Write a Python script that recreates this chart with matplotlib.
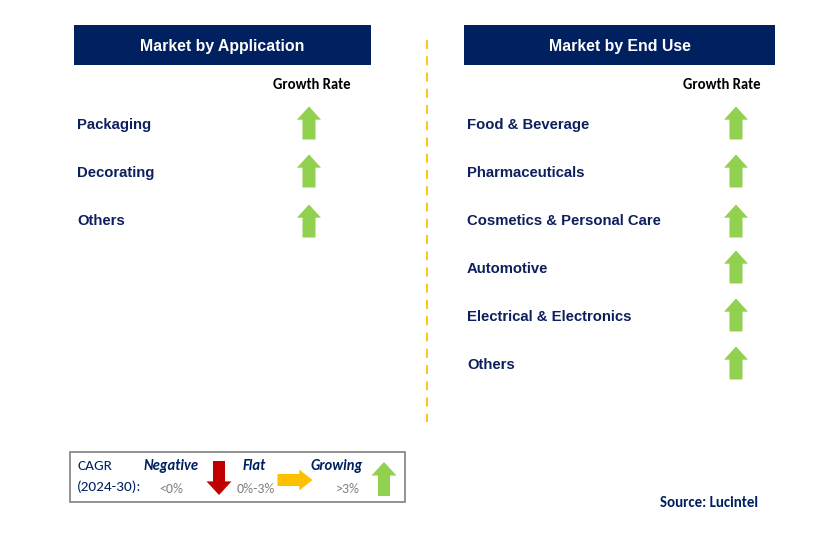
import matplotlib
matplotlib.use("Agg")
import matplotlib.pyplot as plt
from matplotlib.patches import Polygon, Rectangle

app_categories = ["Packaging", "Decorating", "Others"]
app_growth = ["up", "up", "up"]
enduse_categories = ["Food & Beverage", "Pharmaceuticals", "Cosmetics & Personal Care",
                     "Automotive", "Electrical & Electronics", "Others"]
enduse_growth = ["up", "up", "up", "up", "up", "up"]
panel_titles = ["Market by Application", "Market by End Use"]
column_label = "Growth Rate"
legend_labels = ["Negative", "Flat", "Growing"]
legend_ranges = ["<0%", "0%-3%", ">3%"]
source_text = "Source: Lucintel"

NAVY = "#002060"
TXT = "#0E1F5E"
GREEN = "#92D050"
RED = "#C00000"
YELLOW = "#FFC000"

fig = plt.figure(figsize=(8.39, 5.42), dpi=100)
ax = fig.add_axes([0, 0, 1, 1])
ax.set_xlim(0, 839)
ax.set_ylim(542, 0)
ax.axis("off")
plt.rcParams['font.family'] = ['Liberation Sans', 'DejaVu Sans']

def up_arrow(cx, cy, h=33, w=24, sw=13, color=GREEN):
    top = cy - h / 2
    bot = cy + h / 2
    hh = h * 0.4
    pts = [(cx, top), (cx + w / 2, top + hh), (cx + sw / 2, top + hh), (cx + sw / 2, bot),
           (cx - sw / 2, bot), (cx - sw / 2, top + hh), (cx - w / 2, top + hh)]
    ax.add_patch(Polygon(pts, closed=True, color=color, lw=0))

def down_arrow(cx, cy, h=33, w=24, sw=13, color=RED):
    top = cy - h / 2
    bot = cy + h / 2
    hh = h * 0.4
    pts = [(cx, bot), (cx + w / 2, bot - hh), (cx + sw / 2, bot - hh), (cx + sw / 2, top),
           (cx - sw / 2, top), (cx - sw / 2, bot - hh), (cx - w / 2, bot - hh)]
    ax.add_patch(Polygon(pts, closed=True, color=color, lw=0))

def right_arrow(cx, cy, l=36, h=21, sh=11, color=YELLOW):
    left = cx - l / 2
    right = cx + l / 2
    hl = l * 0.38
    pts = [(right, cy), (right - hl, cy - h / 2), (right - hl, cy - sh / 2), (left, cy - sh / 2),
           (left, cy + sh / 2), (right - hl, cy + sh / 2), (right - hl, cy + h / 2)]
    ax.add_patch(Polygon(pts, closed=True, color=color, lw=0))

def draw_arrow(kind, cx, cy):
    if kind == "up":
        up_arrow(cx, cy)
    elif kind == "down":
        down_arrow(cx, cy)
    else:
        right_arrow(cx, cy)

cal = ["Carlito", "Liberation Sans", "DejaVu Sans"]

# Panels
panels = [
    dict(x0=74, x1=371, title=panel_titles[0], cats=app_categories, growth=app_growth,
         tx=77, ax_=309, gx=312),
    dict(x0=464, x1=775, title=panel_titles[1], cats=enduse_categories, growth=enduse_growth,
         tx=467, ax_=736, gx=722),
]
for p in panels:
    ax.add_patch(Rectangle((p["x0"], 25), p["x1"] - p["x0"], 40, color=NAVY, lw=0))
    ax.text((p["x0"] + p["x1"]) / 2, 46, p["title"], color="white", fontsize=11.4,
            fontweight="bold", ha="center", va="center")
    ax.text(p["gx"], 85, column_label, color="black", fontsize=10.5, fontweight="bold",
            ha="center", va="center", family=cal)
    for i, (c, g) in enumerate(zip(p["cats"], p["growth"])):
        y = 124 + 48 * i
        ax.text(p["tx"], y + 1, c, color=TXT, fontsize=10.7, fontweight="bold", ha="left", va="center")
        draw_arrow(g, p["ax_"], y - 1 + (2 if i == 2 else 0))

# Divider
ax.plot([427, 427], [40, 422], color=YELLOW, lw=1.3, ls=(0, (5, 4)))

# Legend box
ax.add_patch(Rectangle((70, 452), 335, 50, fill=False, ec="#808080", lw=1.2))
ax.text(77, 466, "CAGR", color=NAVY, fontsize=11, ha="left", va="center", family=cal)
ax.text(77, 487, "(2024-30):", color=NAVY, fontsize=11, ha="left", va="center", family=cal)
lx = [171, 254, 337]
rx = [171, 256, 348]
for lab, rng, x1, x2 in zip(legend_labels, legend_ranges, lx, rx):
    ax.text(x1, 466, lab, color=NAVY, fontsize=10.5, fontweight="bold", style="italic",
            ha="center", va="center", family=cal)
    ax.text(x2, 489, rng, color="#7F7F7F", fontsize=10, ha="center", va="center", family=cal)
down_arrow(219, 478, h=34, w=25, sw=12)
right_arrow(295, 480, l=35, h=21, sh=12)
up_arrow(384, 479, h=34, w=25, sw=12)

ax.text(709, 503, source_text, color=NAVY, fontsize=10.7, fontweight="bold", ha="center",
        va="center", family=cal)

fig.savefig("out.png", dpi=100)
